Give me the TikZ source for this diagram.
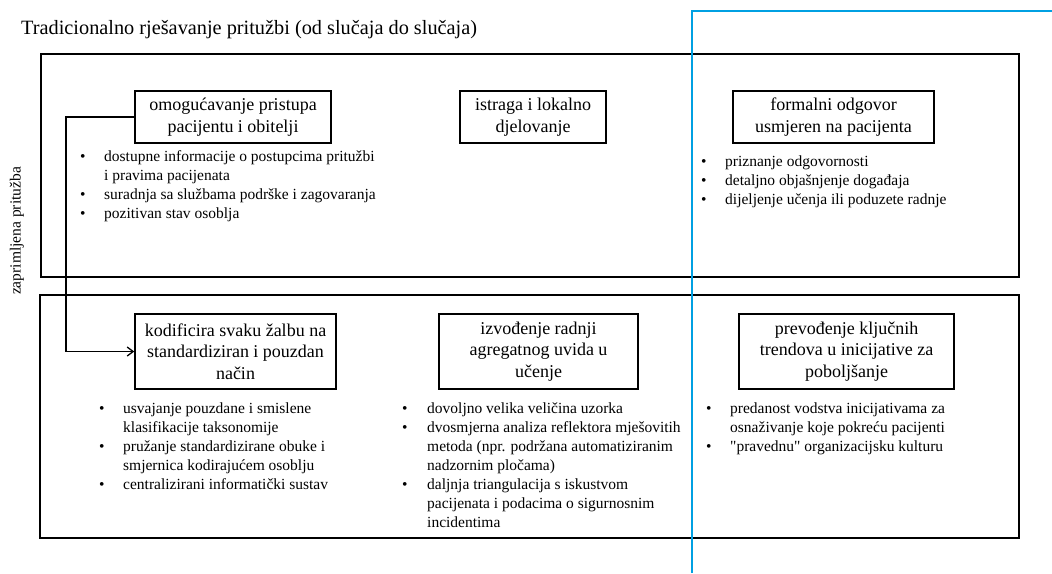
\documentclass[tikz,border=0pt]{standalone}
\usepackage{fontspec}
\setmainfont{Liberation Serif}[Ligatures=TeXOff]
\usetikzlibrary{arrows.meta}
\definecolor{skyline}{RGB}{0,160,226}
\tikzset{
  outerbox/.style={draw=black,line width=2pt},
  stagebox/.style={draw=black,line width=1.5pt,align=center,inner sep=0pt,font=\fontsize{18}{21.5}\selectfont},
  bullets/.style={anchor=base west,inner sep=0pt,font=\fontsize{15.5}{19}\selectfont},
  link/.style={draw=black,line width=1.3pt},
}
\newcommand{\bl}{\textbullet}
\begin{document}
\begin{tikzpicture}[x=1pt,y=-1pt]
\useasboundingbox[fill=white] (0,0) rectangle (1052,573);
\node[anchor=base west,inner sep=0pt,font=\fontsize{20.3}{23}\selectfont] (title) at (21,34) {Tradicionalno rješavanje pritužbi (od slučaja do slučaja)};
\node[rotate=90,inner sep=0pt,font=\fontsize{15.5}{17}\selectfont] (side) at (17,231) {zaprimljena pritužba};
% outer frames
\node[outerbox,minimum width=978pt,minimum height=223pt,inner sep=0pt] (top) at (530,165.5) {};
\node[outerbox,minimum width=979pt,minimum height=243pt,inner sep=0pt] (bot) at (529.5,416.5) {};
% stage boxes
\node[stagebox,minimum width=196pt,minimum height=52pt] (b1) at (233,117) {omogućavanje pristupa\\pacijentu i obitelji};
\node[stagebox,minimum width=146pt,minimum height=52pt] (b2) at (533,117) {istraga i lokalno\\djelovanje};
\node[stagebox,minimum width=201pt,minimum height=52pt] (b3) at (833.5,117) {formalni odgovor\\usmjeren na pacijenta};
\node[stagebox,minimum width=201pt,minimum height=75pt] (b4) at (235.5,351.5) {kodificira svaku žalbu na\\standardiziran i pouzdan\\način};
\node[stagebox,minimum width=199pt,minimum height=75pt] (b5) at (538.5,351.5) {izvođenje radnji\\agregatnog uvida u\\učenje};
\node[stagebox,minimum width=215pt,minimum height=75pt] (b6) at (846.5,351.5) {prevođenje ključnih\\trendova u inicijative za\\poboljšanje};
% bullet lists
\node[bullets] (l1) at (80,161.5) {\begin{tabular}[t]{@{}p{24pt}@{}l@{}}
\bl & dostupne informacije o postupcima pritužbi\\
 & i pravima pacijenata\\
\bl & suradnja sa službama podrške i zagovaranja\\
\bl & pozitivan stav osoblja
\end{tabular}};
\node[bullets] (l3) at (701,166.5) {\begin{tabular}[t]{@{}p{24pt}@{}l@{}}
\bl & priznanje odgovornosti\\
\bl & detaljno objašnjenje događaja\\
\bl & dijeljenje učenja ili poduzete radnje
\end{tabular}};
\node[bullets] (l4) at (99,413.5) {\begin{tabular}[t]{@{}p{24pt}@{}l@{}}
\bl & usvajanje pouzdane i smislene\\
 & klasifikacije taksonomije\\
\bl & pružanje standardizirane obuke i\\
 & smjernica kodirajućem osoblju\\
\bl & centralizirani informatički sustav
\end{tabular}};
\node[bullets] (l5) at (402,413.5) {\begin{tabular}[t]{@{}p{25pt}@{}l@{}}
\bl & dovoljno velika veličina uzorka\\
\bl & dvosmjerna analiza reflektora mješovitih\\
 & metoda (npr. podržana automatiziranim\\
 & nadzornim pločama)\\
\bl & daljnja triangulacija s iskustvom\\
 & pacijenata i podacima o sigurnosnim\\
 & incidentima
\end{tabular}};
\node[bullets] (l6) at (706,413.5) {\begin{tabular}[t]{@{}p{24pt}@{}l@{}}
\bl & predanost vodstva inicijativama za\\
 & osnaživanje koje pokreću pacijenti\\
\bl & "pravednu" organizacijsku kulturu
\end{tabular}};
% connector
\coordinate (bend) at (66,117);
\draw[link,-{Straight Barb[length=6pt,width=9pt]}] (b1.west) -- (bend) |- (b4.west);
% blue divider
\draw[skyline,line width=2.5pt] (692,573) -- (692,11) -- (1052,11);
\end{tikzpicture}
\end{document}
